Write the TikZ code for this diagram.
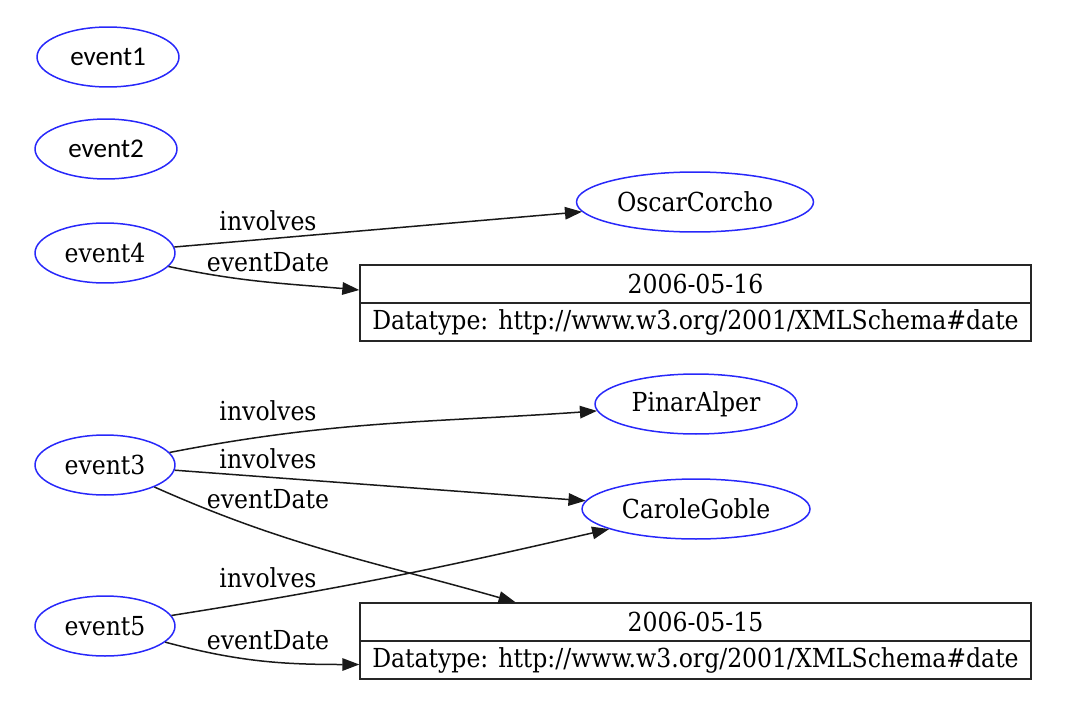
\documentclass[tikz,border=0pt]{standalone}
\usepackage{fontspec}
\setmainfont{DejaVu Serif Condensed}
\newfontfamily\calibri{Carlito}
\usetikzlibrary{shapes.geometric,arrows.meta,positioning}

\definecolor{nodeblue}{RGB}{40,40,250}

\tikzset{
    res/.style={ellipse, draw=nodeblue, line width=0.03cm, inner sep=0pt,
        minimum height=1.2cm, font=\fontsize{14.9}{17}\selectfont},
    lit/.style={rectangle, draw=black!85, line width=0.03cm, inner sep=0pt,
        minimum width=13.42cm, minimum height=0.76cm, font=\fontsize{14.9}{17}\selectfont},
    lbl/.style={inner sep=0pt, font=\fontsize{14.9}{17}\selectfont},
    edge/.style={draw=black!90, line width=0.03cm, -{Triangle[length=0.34cm,width=0.25cm]}}
}

\begin{document}
\begin{tikzpicture}[x=0.02cm, y=0.02cm]
    \useasboundingbox (0,0) rectangle (1067,708);

    % Unconnected events
    \node[res, minimum width=2.84cm, font=\calibri\fontsize{15.4}{17}\selectfont] (event1) at (108,651) {event1};
    \node[res, minimum width=2.84cm, font=\calibri\fontsize{15.4}{17}\selectfont] (event2) at (106,559) {event2};

    % Subjects
    \node[res, minimum width=2.8cm] (event4) at (105,455) {event4};
    \node[res, minimum width=2.8cm] (event3) at (105,243) {event3};
    \node[res, minimum width=2.8cm] (event5) at (105,82) {event5};

    % People
    \node[res, minimum width=4.74cm] (oscar) at (695,506) {OscarCorcho};
    \node[res, minimum width=4.04cm] (pinar) at (696,304) {PinarAlper};
    \node[res, minimum width=4.56cm] (carole) at (696,199) {CaroleGoble};

    % Date literals
    \node[lit] (date16) at (695.5,424) {2006-05-16};
    \node[lit] (date16dt) at (695.5,386) {Datatype: http://www.w3.org/2001/XMLSchema\#date};
    \node[lit] (date15) at (695.5,86) {2006-05-15};
    \node[lit] (date15dt) at (695.5,48) {Datatype: http://www.w3.org/2001/XMLSchema\#date};

    % event4
    \draw[edge] (event4) -- (oscar);
    \node[lbl] (l4inv) at (268,487) {involves};
    \draw[edge] (event4) to[out=-12, in=175] ([yshift=-0.12cm]date16.west);
    \node[lbl] (l4date) at (268,446) {eventDate};

    % event3
    \draw[edge] (event3) to[out=11, in=184] (pinar);
    \node[lbl] (l3inv1) at (268,297) {involves};
    \draw[edge] (event3) -- (carole);
    \node[lbl] (l3inv2) at (268,249) {involves};
    \draw[edge] (event3) to[out=-24, in=164] ([xshift=-3.6cm]date15.north);
    \node[lbl] (l3date) at (268,209) {eventDate};

    % event5
    \draw[edge] (event5) to[out=9, in=193] (carole);
    \node[lbl] (l5inv) at (268,130) {involves};
    \draw[edge] (event5) to[out=-15, in=180] ([yshift=-0.09cm]date15dt.west);
    \node[lbl] (l5date) at (268,68) {eventDate};
\end{tikzpicture}
\end{document}
